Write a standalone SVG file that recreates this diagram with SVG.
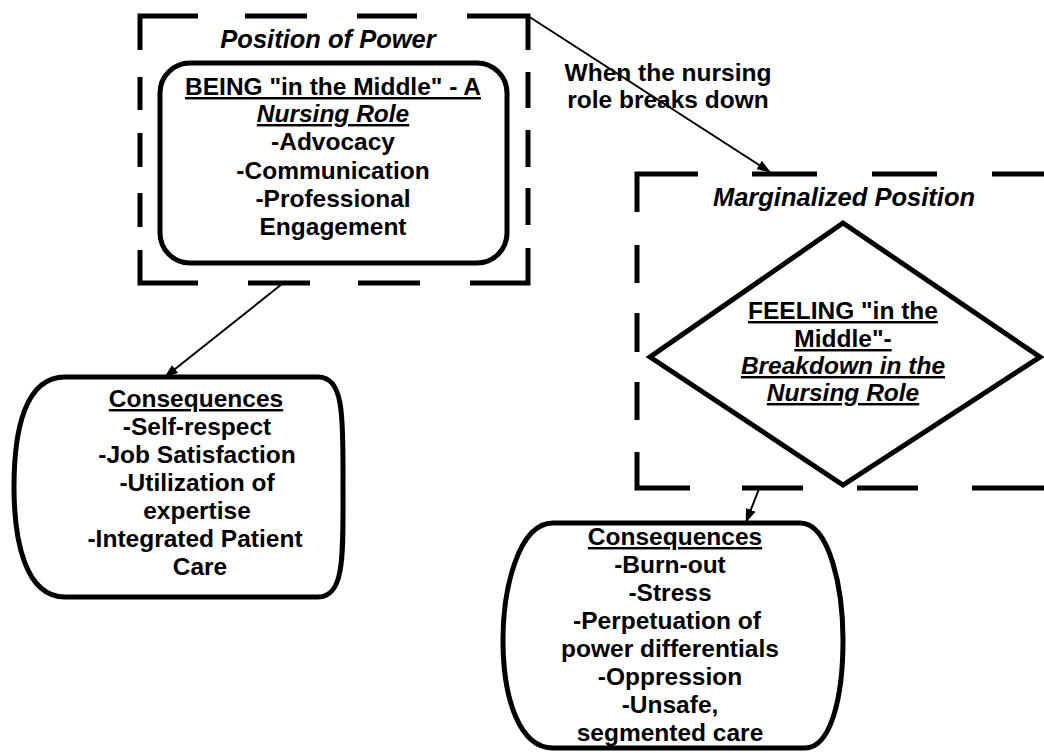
<svg xmlns="http://www.w3.org/2000/svg" width="1044" height="753" viewBox="0 0 1044 753">
<style>
.t{font-family:"Liberation Sans",Arial,sans-serif;font-weight:bold;font-size:24.5px;fill:#000;text-anchor:middle}
.ti{font-style:italic;font-size:25.5px}
.u{text-decoration:underline}
.i{font-style:italic}
.dash{fill:none;stroke:#000;stroke-width:5;stroke-linecap:butt;stroke-linejoin:miter}
.shape{fill:#fff;stroke:#000;stroke-width:5}
.conn{stroke:#000;stroke-width:2;fill:none}
</style>
<defs>
<marker id="ah" viewBox="0 0 14 10" refX="13" refY="5" markerWidth="14" markerHeight="10" markerUnits="userSpaceOnUse" orient="auto">
<path d="M0,0 L14,5 L0,10 z" fill="#000"/>
</marker>
</defs>
<rect width="1044" height="753" fill="#fff"/>

<g id="power-frame">
<path class="dash" d="M140 50 V16 H198 M245 16 H307 M357 16 H417 M467 16 H528 V50 M528 72 V108 M528 130 V167 M528 188 V225 M528 248 V283 H470 M420 283 H358 M310 283 H248 M198 283 H140 V250 M140 193 V227 M140 133 V167 M140 77 V110"/>
<text class="t ti" x="328" y="48">Position of Power</text>
</g>

<g id="being-node">
<rect class="shape" x="160" y="63" width="347" height="200" rx="30" ry="30"/>
<text class="t u" x="333" y="95">BEING "in the Middle" - A</text>
<text class="t u i" x="333" y="122">Nursing Role</text>
<text class="t" x="333" y="150">-Advocacy</text>
<text class="t" x="333" y="179">-Communication</text>
<text class="t" x="333" y="207">-Professional</text>
<text class="t" x="333" y="235">Engagement</text>
</g>

<g id="marginal-frame">
<path class="dash" d="M637 212 V174 H698 M752 174 H817 M872 174 H937 M992 174 H1050 M637 245 V283 M637 313 V352 M637 382 V420 M637 452 V488 H690 M742 488 H803 M857 488 H918 M972 488 H1050"/>
<text class="t ti" x="844" y="206">Marginalized Position</text>
</g>

<g id="feeling-node">
<polygon class="shape" points="843,223 1040,357 843,485 650,357"/>
<text class="t u" x="843" y="319">FEELING "in the</text>
<text class="t u" x="843" y="347">Middle"-</text>
<text class="t u i" x="843" y="374">Breakdown in the</text>
<text class="t u i" x="843" y="401">Nursing Role</text>
</g>

<g id="consequences-left">
<path class="shape" d="M65 377 H318 C345 377 343 420 343 487 C343 555 345 597 318 597 H65 C25 597 14 540 14 487 C14 430 25 377 65 377 Z"/>
<text class="t u" x="196" y="407">Consequences</text>
<text class="t" x="197" y="435">-Self-respect</text>
<text class="t" x="197" y="463">-Job Satisfaction</text>
<text class="t" x="197" y="491">-Utilization of</text>
<text class="t" x="197" y="519">expertise</text>
<text class="t" x="195" y="547">-Integrated Patient</text>
<text class="t" x="200" y="575">Care</text>
</g>

<g id="consequences-right">
<path class="shape" d="M553 523 H800 C830 523 843 590 843 640 C843 700 830 748 805 748 H553 C520 748 503 700 503 640 C503 590 518 523 553 523 Z"/>
<text class="t u" x="675" y="545">Consequences</text>
<text class="t" x="670" y="573">-Burn-out</text>
<text class="t" x="670" y="601">-Stress</text>
<text class="t" x="667" y="629">-Perpetuation of</text>
<text class="t" x="670" y="657">power differentials</text>
<text class="t" x="670" y="685">-Oppression</text>
<text class="t" x="670" y="713">-Unsafe,</text>
<text class="t" x="670" y="741">segmented care</text>
</g>

<g id="connectors">
<line class="conn" x1="528" y1="16" x2="770" y2="172" marker-end="url(#ah)"/>
<line class="conn" x1="282" y1="284" x2="165" y2="377" marker-end="url(#ah)"/>
<line class="conn" x1="759" y1="489" x2="746" y2="522" marker-end="url(#ah)"/>
<text class="t" x="668" y="81">When the nursing</text>
<text class="t" x="668" y="108">role breaks down</text>
</g>
</svg>
